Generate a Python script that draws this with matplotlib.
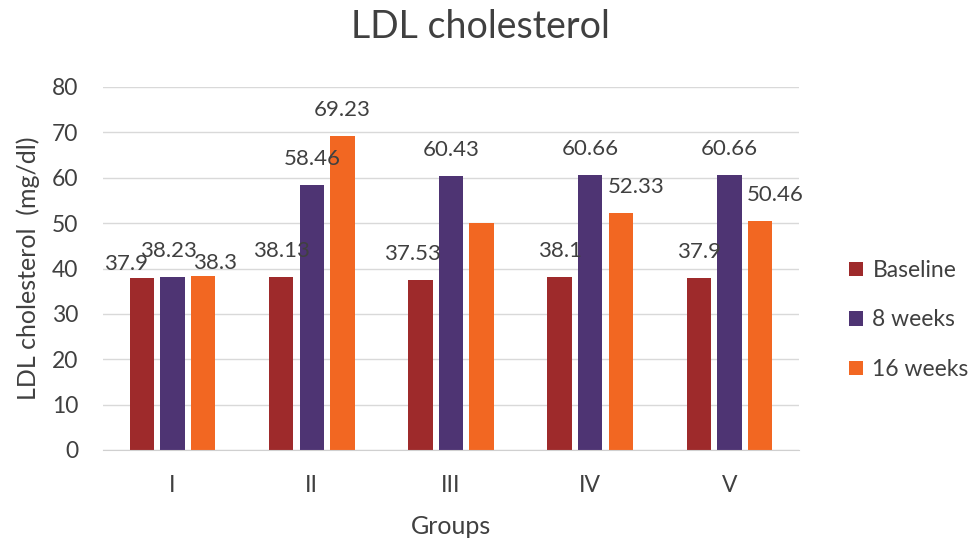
import matplotlib
matplotlib.use("Agg")
import matplotlib.pyplot as plt
import numpy as np

# data
groups = ["I", "II", "III", "IV", "V"]
baseline = [37.9, 38.13, 37.53, 38.1, 37.9]
weeks8 = [38.23, 58.46, 60.43, 60.66, 60.66]
weeks16 = [38.3, 69.23, 50.0, 52.33, 50.46]
series_names = ["Baseline", "8 weeks", "16 weeks"]

colors = ["#9E2A2B", "#4E3473", "#F26722"]
text_col = "#404040"

# labels that were moved by hand in the original (px offsets), and one that was hidden
nudges = {(0, 0): (-16, -12), (0, 1): (-4, 0), (0, 2): (12, -13),
          (2, 0): (-8, 0), (3, 2): (15, 0), (4, 2): (15, 0)}
hidden = {(2, 2)}

plt.rcParams["font.family"] = ["Lato", "DejaVu Sans"]

fig = plt.figure(figsize=(9.71, 5.43), dpi=100)
ax = fig.add_axes([103 / 971, 1 - 450 / 543, 696 / 971, 363 / 543])

x = np.arange(len(groups))
width = 0.175
step = 0.22
px = 0.72  # points per pixel at 100 dpi

for s, (vals, name, col) in enumerate(zip([baseline, weeks8, weeks16], series_names, colors)):
    pos = x + (s - 1) * step
    ax.bar(pos, vals, width, color=col, label=name, zorder=3)
    for g, (xp, v) in enumerate(zip(pos, vals)):
        if (g, s) in hidden:
            continue
        dx, dy = nudges.get((g, s), (0, 0))
        ax.annotate(f"{v:g}", (xp, v), xytext=(dx * px, (20 + dy) * px),
                    textcoords="offset points", ha="center", va="baseline",
                    fontsize=16, color=text_col, zorder=5)

ax.set_xlim(-0.5, len(groups) - 0.5)
ax.set_ylim(0, 80)
ax.set_yticks(range(0, 81, 10))
ax.set_xticks(x)
ax.set_xticklabels(groups)
ax.tick_params(axis="both", length=0, labelsize=16.5, labelcolor=text_col)
ax.tick_params(axis="y", pad=18)
ax.tick_params(axis="x", pad=18)
ax.grid(axis="y", color="#D9D9D9", linewidth=1, zorder=0)
for side in ["top", "right", "left"]:
    ax.spines[side].set_visible(False)
ax.spines["bottom"].set_color("#D0D0D0")
ax.spines["bottom"].set_zorder(4)

ax.set_ylabel("LDL cholesterol  (mg/dl)", fontsize=18, color=text_col, labelpad=8)
ax.set_xlabel("Groups", fontsize=18, color=text_col, labelpad=14)
fig.text(0.495, 1 - 27 / 543, "LDL cholesterol", ha="center", va="center",
         fontsize=27, color=text_col)

fig.legend(loc="center left", bbox_to_anchor=(838 / 971, 1 - 320 / 543),
           frameon=False, fontsize=16.5, handlelength=0.6, handleheight=0.6,
           handletextpad=0.4, labelspacing=1.25, labelcolor=text_col,
           borderpad=0)

fig.savefig("out.png", dpi=100)
